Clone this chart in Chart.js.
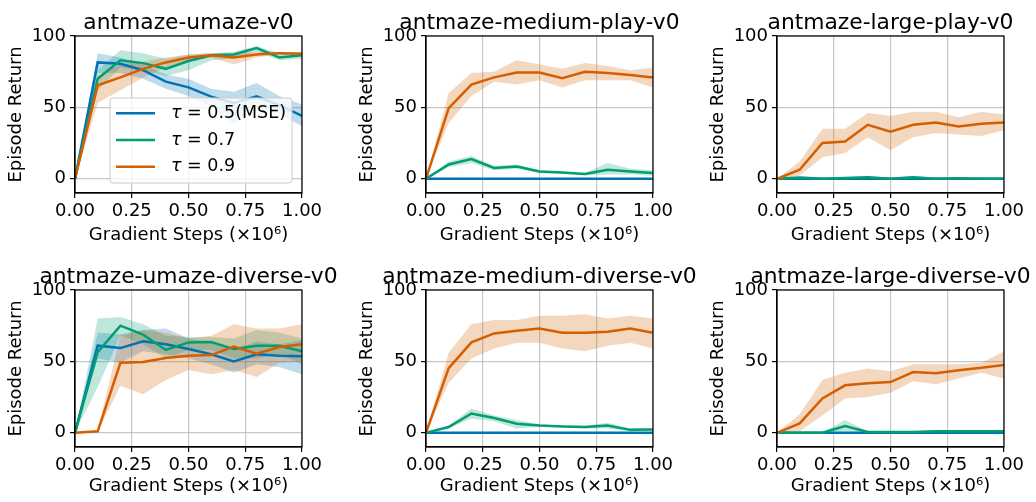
<!DOCTYPE html>
<html>
<head>
<meta charset="utf-8">
<script src="https://cdn.jsdelivr.net/npm/chart.js@4.4.0/dist/chart.umd.min.js"></script>
<style>
  html, body { margin: 0; padding: 0; background: #fff; }
  #wrap { position: relative; width: 1036px; height: 502px; overflow: hidden; }
  #wrap canvas { position: absolute; }
</style>
</head>
<body>
<div id="wrap"></div>
<script>
// x values (gradient steps, x1e6)
const steps = [0, 0.1, 0.2, 0.3, 0.4, 0.5, 0.6, 0.7, 0.8, 0.9, 1.0];
const xTicks = [0, 0.25, 0.5, 0.75, 1.0];
const yTicks = [0, 50, 100];
const seriesNames = ['τ = 0.5(MSE)', 'τ = 0.7', 'τ = 0.9'];
const titles = ['antmaze-umaze-v0', 'antmaze-medium-play-v0', 'antmaze-large-play-v0',
                'antmaze-umaze-diverse-v0', 'antmaze-medium-diverse-v0', 'antmaze-large-diverse-v0'];
const zeros = [0, 0, 0, 0, 0, 0, 0, 0, 0, 0, 0];

// antmaze-umaze-v0
const umazeMse   = [0, 81.5, 80.5, 76, 68, 64, 57.5, 53, 57.8, 51.5, 44];
const umazeMseLo = [0, 74, 74, 70, 63, 58, 50, 38, 50, 45, 37];
const umazeMseHi = [0, 88, 85, 80, 73, 70, 63, 61, 67, 58, 52];
const umaze07   = [0, 70, 83, 81, 77, 82.5, 86.5, 87, 91.5, 85, 86.5];
const umaze07Lo = [0, 62, 78, 76, 72, 76, 83, 84, 89, 83, 84];
const umaze07Hi = [0, 76, 90, 88, 84, 87, 88, 89, 93, 88, 89];
const umaze09   = [0, 65.5, 71, 77, 81.5, 85, 86.5, 85, 87, 88, 87.5];
const umaze09Lo = [0, 53, 62, 71, 78, 82, 85, 80, 85, 87, 86];
const umaze09Hi = [0, 72, 80, 82, 85, 87, 88, 88, 89, 89, 88.5];

// antmaze-medium-play-v0
const mplay07   = [0, 10, 13.8, 7.5, 8.6, 5, 4.4, 3.3, 6.3, 5, 4];
const mplay07Lo = [0, 8, 11, 6, 7, 4, 3.5, 2.5, 3, 3, 2];
const mplay07Hi = [0, 12, 16, 9, 10, 6, 5, 4, 11, 7, 6];
const mplay09   = [0, 49.4, 66, 71, 74.4, 74.4, 70.4, 75, 74, 72.7, 71];
const mplay09Lo = [0, 39, 58, 68, 66, 69, 64, 69, 69, 69, 64];
const mplay09Hi = [0, 60, 74, 75, 83, 80, 77, 81, 79, 76, 78];

// antmaze-large-play-v0
const lplay07   = [0, 0.8, 0, 0.5, 1, 0, 1, 0, 0.3, 0, 0];
const lplay07Lo = [0, 0, 0, 0, 0, 0, 0, 0, 0, 0, 0];
const lplay07Hi = [0, 1.5, 0.5, 1, 2, 0.5, 2, 0.5, 0.6, 0.3, 0.3];
const lplay09   = [0, 6.3, 25, 26, 37.8, 33, 37.8, 39.4, 36.6, 38.5, 39.4];
const lplay09Lo = [0, 2, 15, 18, 29, 20, 29, 32, 31, 30, 34];
const lplay09Hi = [0, 12, 35, 35, 46, 44, 47, 47, 43, 47, 45];

// antmaze-umaze-diverse-v0
const udivMse   = [0, 61, 59.3, 64, 62, 58.6, 55, 50, 55, 54, 53.5];
const udivMseLo = [0, 52, 49, 57, 55, 52, 48, 42, 48, 46, 41];
const udivMseHi = [0, 70, 69, 72, 73, 66, 64, 58, 64, 62, 65];
const udiv07   = [0, 56.5, 75, 68.7, 58, 63.3, 63.5, 58.6, 61, 61, 57];
const udiv07Lo = [0, 32, 68, 62, 52, 58, 58, 52, 52, 55, 48];
const udiv07Hi = [0, 80, 81, 76, 68, 67, 67, 66, 72, 70, 66];
const udiv09   = [0, 1, 49, 49.5, 52.3, 54, 54.4, 60.3, 55.4, 60, 62];
const udiv09Lo = [0, 0.5, 33, 27, 37, 44, 41, 44, 39, 49, 50];
const udiv09Hi = [0, 1.5, 68, 72, 70, 66, 68, 76, 73, 73, 76];

// antmaze-medium-diverse-v0
const mdiv07   = [0, 4, 13.5, 10.3, 6.3, 5, 4.4, 4, 5, 2, 2.3];
const mdiv07Lo = [0, 3, 10, 8, 3, 4, 4, 3, 3, 1, 1.5];
const mdiv07Hi = [0, 5, 17, 12, 9, 6, 5, 5, 7, 3, 3];
const mdiv09   = [0, 45.3, 63.3, 69.6, 71.5, 73, 70, 70, 70.8, 73, 70];
const mdiv09Lo = [0, 35, 52, 59, 63, 63, 59, 57, 61, 63, 59];
const mdiv09Hi = [0, 56, 76, 79, 79, 82, 82, 83, 80, 82, 80];

// antmaze-large-diverse-v0
const ldiv07   = [0, 0, 0, 4.7, 0.5, 0.5, 0.5, 1, 1, 1, 1];
const ldiv07Lo = [0, 0, 0, 1, 0, 0, 0, 0.3, 0.3, 0.3, 0.3];
const ldiv07Hi = [0, 0, 0, 9, 1, 1, 1, 1.7, 1.7, 1.7, 1.7];
const ldiv09   = [0, 6.5, 24, 33.2, 34.6, 35.5, 42.5, 41.6, 43.7, 45.6, 47.4];
const ldiv09Lo = [0, 1, 12, 24, 25, 28, 36, 34, 38, 42, 38];
const ldiv09Hi = [0, 13, 37, 42, 45, 43, 48, 48, 48, 49, 57];

// mean / low / high per panel, order: mse, 0.7, 0.9
const panels = [
  [[umazeMse, umazeMseLo, umazeMseHi], [umaze07, umaze07Lo, umaze07Hi], [umaze09, umaze09Lo, umaze09Hi]],
  [[zeros, zeros, zeros], [mplay07, mplay07Lo, mplay07Hi], [mplay09, mplay09Lo, mplay09Hi]],
  [[zeros, zeros, zeros], [lplay07, lplay07Lo, lplay07Hi], [lplay09, lplay09Lo, lplay09Hi]],
  [[udivMse, udivMseLo, udivMseHi], [udiv07, udiv07Lo, udiv07Hi], [udiv09, udiv09Lo, udiv09Hi]],
  [[zeros, zeros, zeros], [mdiv07, mdiv07Lo, mdiv07Hi], [mdiv09, mdiv09Lo, mdiv09Hi]],
  [[zeros, zeros, zeros], [ldiv07, ldiv07Lo, ldiv07Hi], [ldiv09, ldiv09Lo, ldiv09Hi]]
];

const colors = ['#0173b2', '#029e73', '#d55e00'];
const bands = ['rgba(1,115,178,0.25)', 'rgba(2,158,115,0.25)', 'rgba(213,94,0,0.25)'];
const FONT = '"DejaVu Sans", sans-serif';
const TICK_SIZE = 18;

const pts = arr => arr.map((v, i) => ({ x: steps[i], y: v }));

// title above each panel + top/right spines
const framePlugin = {
  id: 'frame',
  afterDraw(chart, args, opts) {
    const { ctx, chartArea: a } = chart;
    ctx.save();
    ctx.strokeStyle = '#000';
    ctx.lineWidth = 1.2;
    ctx.strokeRect(a.left, a.top, a.right - a.left, a.bottom - a.top);
    ctx.font = '21.8px ' + FONT;
    ctx.fillStyle = '#000';
    ctx.textAlign = 'center';
    ctx.textBaseline = 'alphabetic';
    ctx.fillText(opts.text, (a.left + a.right) / 2, a.top - 7);
    ctx.restore();
  }
};

// matplotlib-like legend for the first panel
const legendPlugin = {
  id: 'mplLegend',
  afterDatasetsDraw(chart, args, opts) {
    if (!opts.show) return;
    const { ctx, chartArea: a } = chart;
    const w = 182, h = 85;
    const x0 = a.right - 10 - w, y0 = a.bottom - 10 - h;
    ctx.save();
    ctx.beginPath();
    ctx.roundRect(x0, y0, w, h, 3);
    ctx.fillStyle = 'rgba(255,255,255,0.8)';
    ctx.fill();
    ctx.strokeStyle = '#cccccc';
    ctx.lineWidth = 1;
    ctx.stroke();
    seriesNames.forEach((name, i) => {
      const y = y0 + 15.3 + i * 26.7;
      ctx.beginPath();
      ctx.moveTo(x0 + 6, y);
      ctx.lineTo(x0 + 45, y);
      ctx.strokeStyle = colors[i];
      ctx.lineWidth = 2.5;
      ctx.stroke();
      ctx.fillStyle = '#000';
      ctx.textBaseline = 'middle';
      ctx.textAlign = 'left';
      ctx.font = 'italic 17.5px ' + FONT;
      ctx.fillText('τ', x0 + 61, y);
      const tw = ctx.measureText('τ').width;
      ctx.font = '17.5px ' + FONT;
      ctx.fillText(name.slice(1), x0 + 61 + tw, y);
    });
    ctx.restore();
  }
};

const wrap = document.getElementById('wrap');

panels.forEach((series, p) => {
  const col = p % 3, row = Math.floor(p / 3);
  const cv = document.createElement('canvas');
  cv.width = 360; cv.height = 256;
  cv.style.left = (col * 351) + 'px';
  cv.style.top = (row * 254) + 'px';
  cv.style.width = '360px'; cv.style.height = '256px';
  wrap.appendChild(cv);

  const datasets = [];
  // mean lines (orange on top)
  series.forEach((s, k) => {
    datasets.push({
      data: pts(s[0]), borderColor: colors[k], borderWidth: 2.5,
      pointRadius: 0, fill: false, order: 2 - k
    });
  });
  // shaded bands under the lines
  series.forEach((s, k) => {
    datasets.push({
      data: pts(s[2]), borderColor: 'transparent', borderWidth: 0,
      pointRadius: 0, fill: false, order: 5 - k
    });
    datasets.push({
      data: pts(s[1]), borderColor: 'transparent', borderWidth: 0,
      backgroundColor: bands[k], pointRadius: 0, fill: '-1', order: 5 - k
    });
  });

  new Chart(cv, {
    type: 'line',
    data: { datasets },
    plugins: [framePlugin, legendPlugin],
    options: {
      responsive: false,
      animation: false,
      layout: { padding: { left: 0, right: 58, top: 36, bottom: 0 } },
      elements: { line: { tension: 0 } },
      plugins: {
        legend: { display: false },
        tooltip: { enabled: false },
        frame: { text: titles[p] },
        mplLegend: { show: p === 0 }
      },
      scales: {
        x: {
          type: 'linear', min: 0, max: 1,
          afterFit: s => { s.height = 63; },
          afterBuildTicks: s => { s.ticks = xTicks.map(v => ({ value: v })); },
          ticks: {
            color: '#000', font: { family: FONT, size: TICK_SIZE }, padding: 3,
            maxRotation: 0, autoSkip: false,
            callback: v => v.toFixed(2)
          },
          grid: { color: 'rgba(176,176,176,0.7)', lineWidth: 1.2, tickColor: '#000', tickLength: 5, tickWidth: 1.2 },
          border: { display: true, color: '#000', width: 1.2 },
          title: {
            display: true, text: 'Gradient Steps (×10⁶)', color: '#000',
            font: { family: FONT, size: TICK_SIZE },
            padding: { top: 0, bottom: row === 0 ? 10 : 13 }
          }
        },
        y: {
          min: -10, max: 100,
          afterFit: s => { s.width = 75; },
          afterBuildTicks: s => { s.ticks = yTicks.map(v => ({ value: v })); },
          ticks: { color: '#000', font: { family: FONT, size: TICK_SIZE }, padding: 4 },
          grid: { color: 'rgba(176,176,176,0.7)', lineWidth: 1.2, tickColor: '#000', tickLength: 5, tickWidth: 1.2 },
          border: { display: true, color: '#000', width: 1.2 },
          title: {
            display: true, text: 'Episode Return', color: '#000',
            font: { family: FONT, size: TICK_SIZE },
            padding: { top: 6, bottom: 0 }
          }
        }
      }
    }
  });
});
</script>
</body>
</html>
